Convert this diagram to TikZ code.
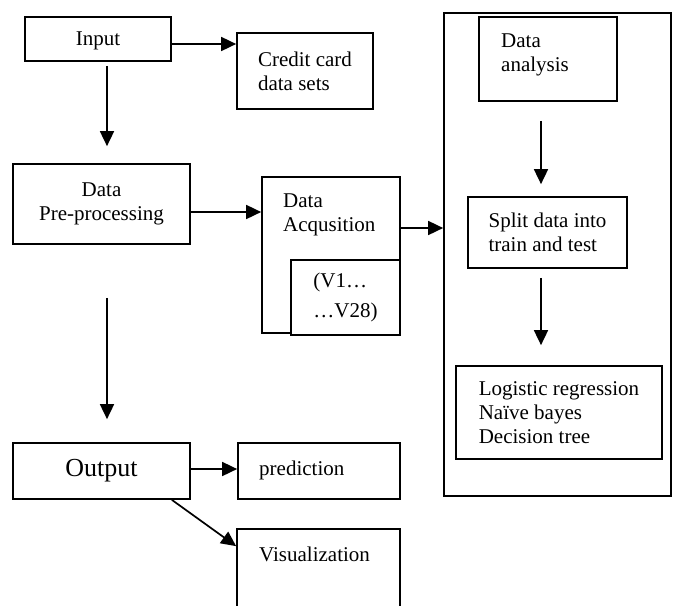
\documentclass[tikz,border=0pt]{standalone}
\usepackage{fontspec}
\setmainfont{Liberation Serif}
\usetikzlibrary{arrows.meta}

\tikzset{
  box/.style={draw, line width=1.7pt, fill=white, inner sep=0pt, font=\fontsize{21}{24}\selectfont},
  txt/.style={inner sep=0pt, align=left, font=\fontsize{21}{24}\selectfont},
  flow/.style={line width=1.7pt, -{Triangle[length=15pt,width=14pt]}},
}

\begin{document}
\begin{tikzpicture}[x=1pt, y=-1pt]
 	\useasboundingbox (0,0) rectangle (674,605);

 	\node[box, minimum width=146, minimum height=44, text depth=0pt] (inp) at (98,39) {Input};
 	\node[box, minimum width=136, minimum height=76, align=left] (credit) at (305,71) {Credit card\\data sets};
 	\node[box, minimum width=177, minimum height=80, align=center] (pre) at (101.5,204) {Data\\Pre-processing};

 	\node[box, minimum width=138, minimum height=156] (acq) at (331,255) {};
 	\node[txt, anchor=west] (acqtext) at (283,214.5) {Data\\Acqusition};
 	\node[box, minimum width=109, minimum height=75, align=left] (vv) at (345.5,297.5) {(V1…\\[6pt]…V28)};

 	\node[box, minimum width=227, minimum height=483] (model) at (557.5,254.5) {};
 	\node[box, minimum width=138, minimum height=84] (anal) at (548,59) {};
 	\node[txt, anchor=west] (analtext) at (501,54.5) {Data\\analysis};
 	\node[box, minimum width=159, minimum height=71, align=left] (split) at (547.5,232.5) {Split data into\\train and test};
 	\node[box, minimum width=206, minimum height=93, align=left] (algo) at (559,412.5) {Logistic regression\\Naïve bayes\\Decision tree};

 	\node[box, minimum width=177, minimum height=56, font=\fontsize{26}{30}\selectfont] (out) at (101.5,471) {Output};
 	\node[box, minimum width=162, minimum height=56] (pred) at (319,471) {};
 	\node[txt, anchor=west] (predtext) at (259,470) {prediction};
 	\node[box, minimum width=163, minimum height=90] (vis) at (318.5,574) {};
 	\node[txt, anchor=west] (vistext) at (259,554) {Visualization};

 	\draw[flow] ([yshift=-5pt]inp.east) -- ([yshift=-5pt]inp.east -| credit.west);
 	\draw[flow] ([xshift=9pt,yshift=-4pt]inp.south) -- ([xshift=5.5pt,yshift=17pt]pre.north);
 	\draw[flow] ([yshift=-8pt]pre.east) -- ([yshift=-8pt]pre.east -| acq.west);
 	\draw[flow] ([xshift=5.5pt,yshift=-53pt]pre.south) -- ([xshift=5.5pt,yshift=23pt]out.north);
 	\draw[flow] ([yshift=27pt]acq.east) -- ([yshift=27pt]acq.east -| model.west);
 	\draw[flow] ([xshift=-7pt,yshift=-19pt]anal.south) -- ([xshift=-6.5pt,yshift=12pt]split.north);
 	\draw[flow] ([xshift=-6.5pt,yshift=-9pt]split.south) -- ([xshift=-18pt,yshift=20pt]algo.north);
 	\draw[flow] ([yshift=2pt]out.east) -- ([yshift=2pt]out.east -| pred.west);
 	\draw[flow] ([xshift=-19pt]out.south east) -- ([yshift=-18pt]vis.north west);
\end{tikzpicture}
\end{document}
